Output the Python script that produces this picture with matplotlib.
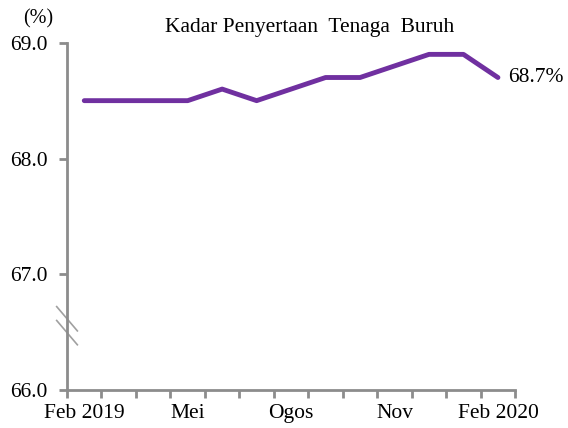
import matplotlib
matplotlib.use("Agg")
import matplotlib.pyplot as plt

months = ["Feb 2019", "Mac", "Apr", "Mei", "Jun", "Jul", "Ogos",
          "Sep", "Okt", "Nov", "Dis", "Jan", "Feb 2020"]
rate = [68.5, 68.5, 68.5, 68.5, 68.6, 68.5, 68.6,
        68.7, 68.7, 68.8, 68.9, 68.9, 68.7]
shown_labels = {0: "Feb 2019", 3: "Mei", 6: "Ogos", 9: "Nov", 12: "Feb 2020"}
yticks = [66.0, 67.0, 68.0, 69.0]

plt.rcParams['font.family'] = ['Liberation Serif', 'DejaVu Serif']
purple = '#7030A0'
grey = '#8C8C8C'

fig = plt.figure(figsize=(5.68, 4.28), dpi=100)
ax = fig.add_axes([0.118, 0.089, 0.789, 0.811])

xs = [i + 0.5 for i in range(len(rate))]
ax.plot(xs, rate, color=purple, linewidth=3.5, solid_capstyle='round', solid_joinstyle='round')

ax.set_xlim(0, len(rate))
ax.set_ylim(66.0, 69.0)

for s in ['top', 'right']:
    ax.spines[s].set_visible(False)
for s in ['left', 'bottom']:
    ax.spines[s].set_color(grey)
    ax.spines[s].set_linewidth(2)

ax.set_yticks(yticks)
ax.set_yticklabels([f"{v:.1f}" for v in yticks], fontsize=15.5)
ax.set_xticks(range(len(rate) + 1))
ax.set_xticklabels([])
ax.set_xticks([i + 0.5 for i in shown_labels], minor=True)
ax.set_xticklabels(list(shown_labels.values()), minor=True, fontsize=15.5)
ax.tick_params(axis='x', which='minor', length=0, pad=10)
ax.tick_params(axis='both', which='major', color=grey, width=2, length=6)
ax.tick_params(axis='y', which='major', pad=8)

# axis break marks on y axis
for yb in [0.205, 0.165]:
    ax.plot([-0.3, 0.3], [66 + 3 * (yb + 0.035), 66 + 3 * (yb - 0.035)],
            color='#A0A0A0', linewidth=1.2, clip_on=False)

ax.text(xs[-1] + 0.3, rate[-1], f"{rate[-1]}%", fontsize=15.5, va='center', ha='left')
fig.text(0.067, 0.956, "(%)", fontsize=14.5, ha='center', va='center')
fig.text(0.545, 0.935, "Kadar Penyertaan  Tenaga  Buruh", fontsize=15.5, ha='center', va='center')

fig.savefig("out.png", dpi=100)
